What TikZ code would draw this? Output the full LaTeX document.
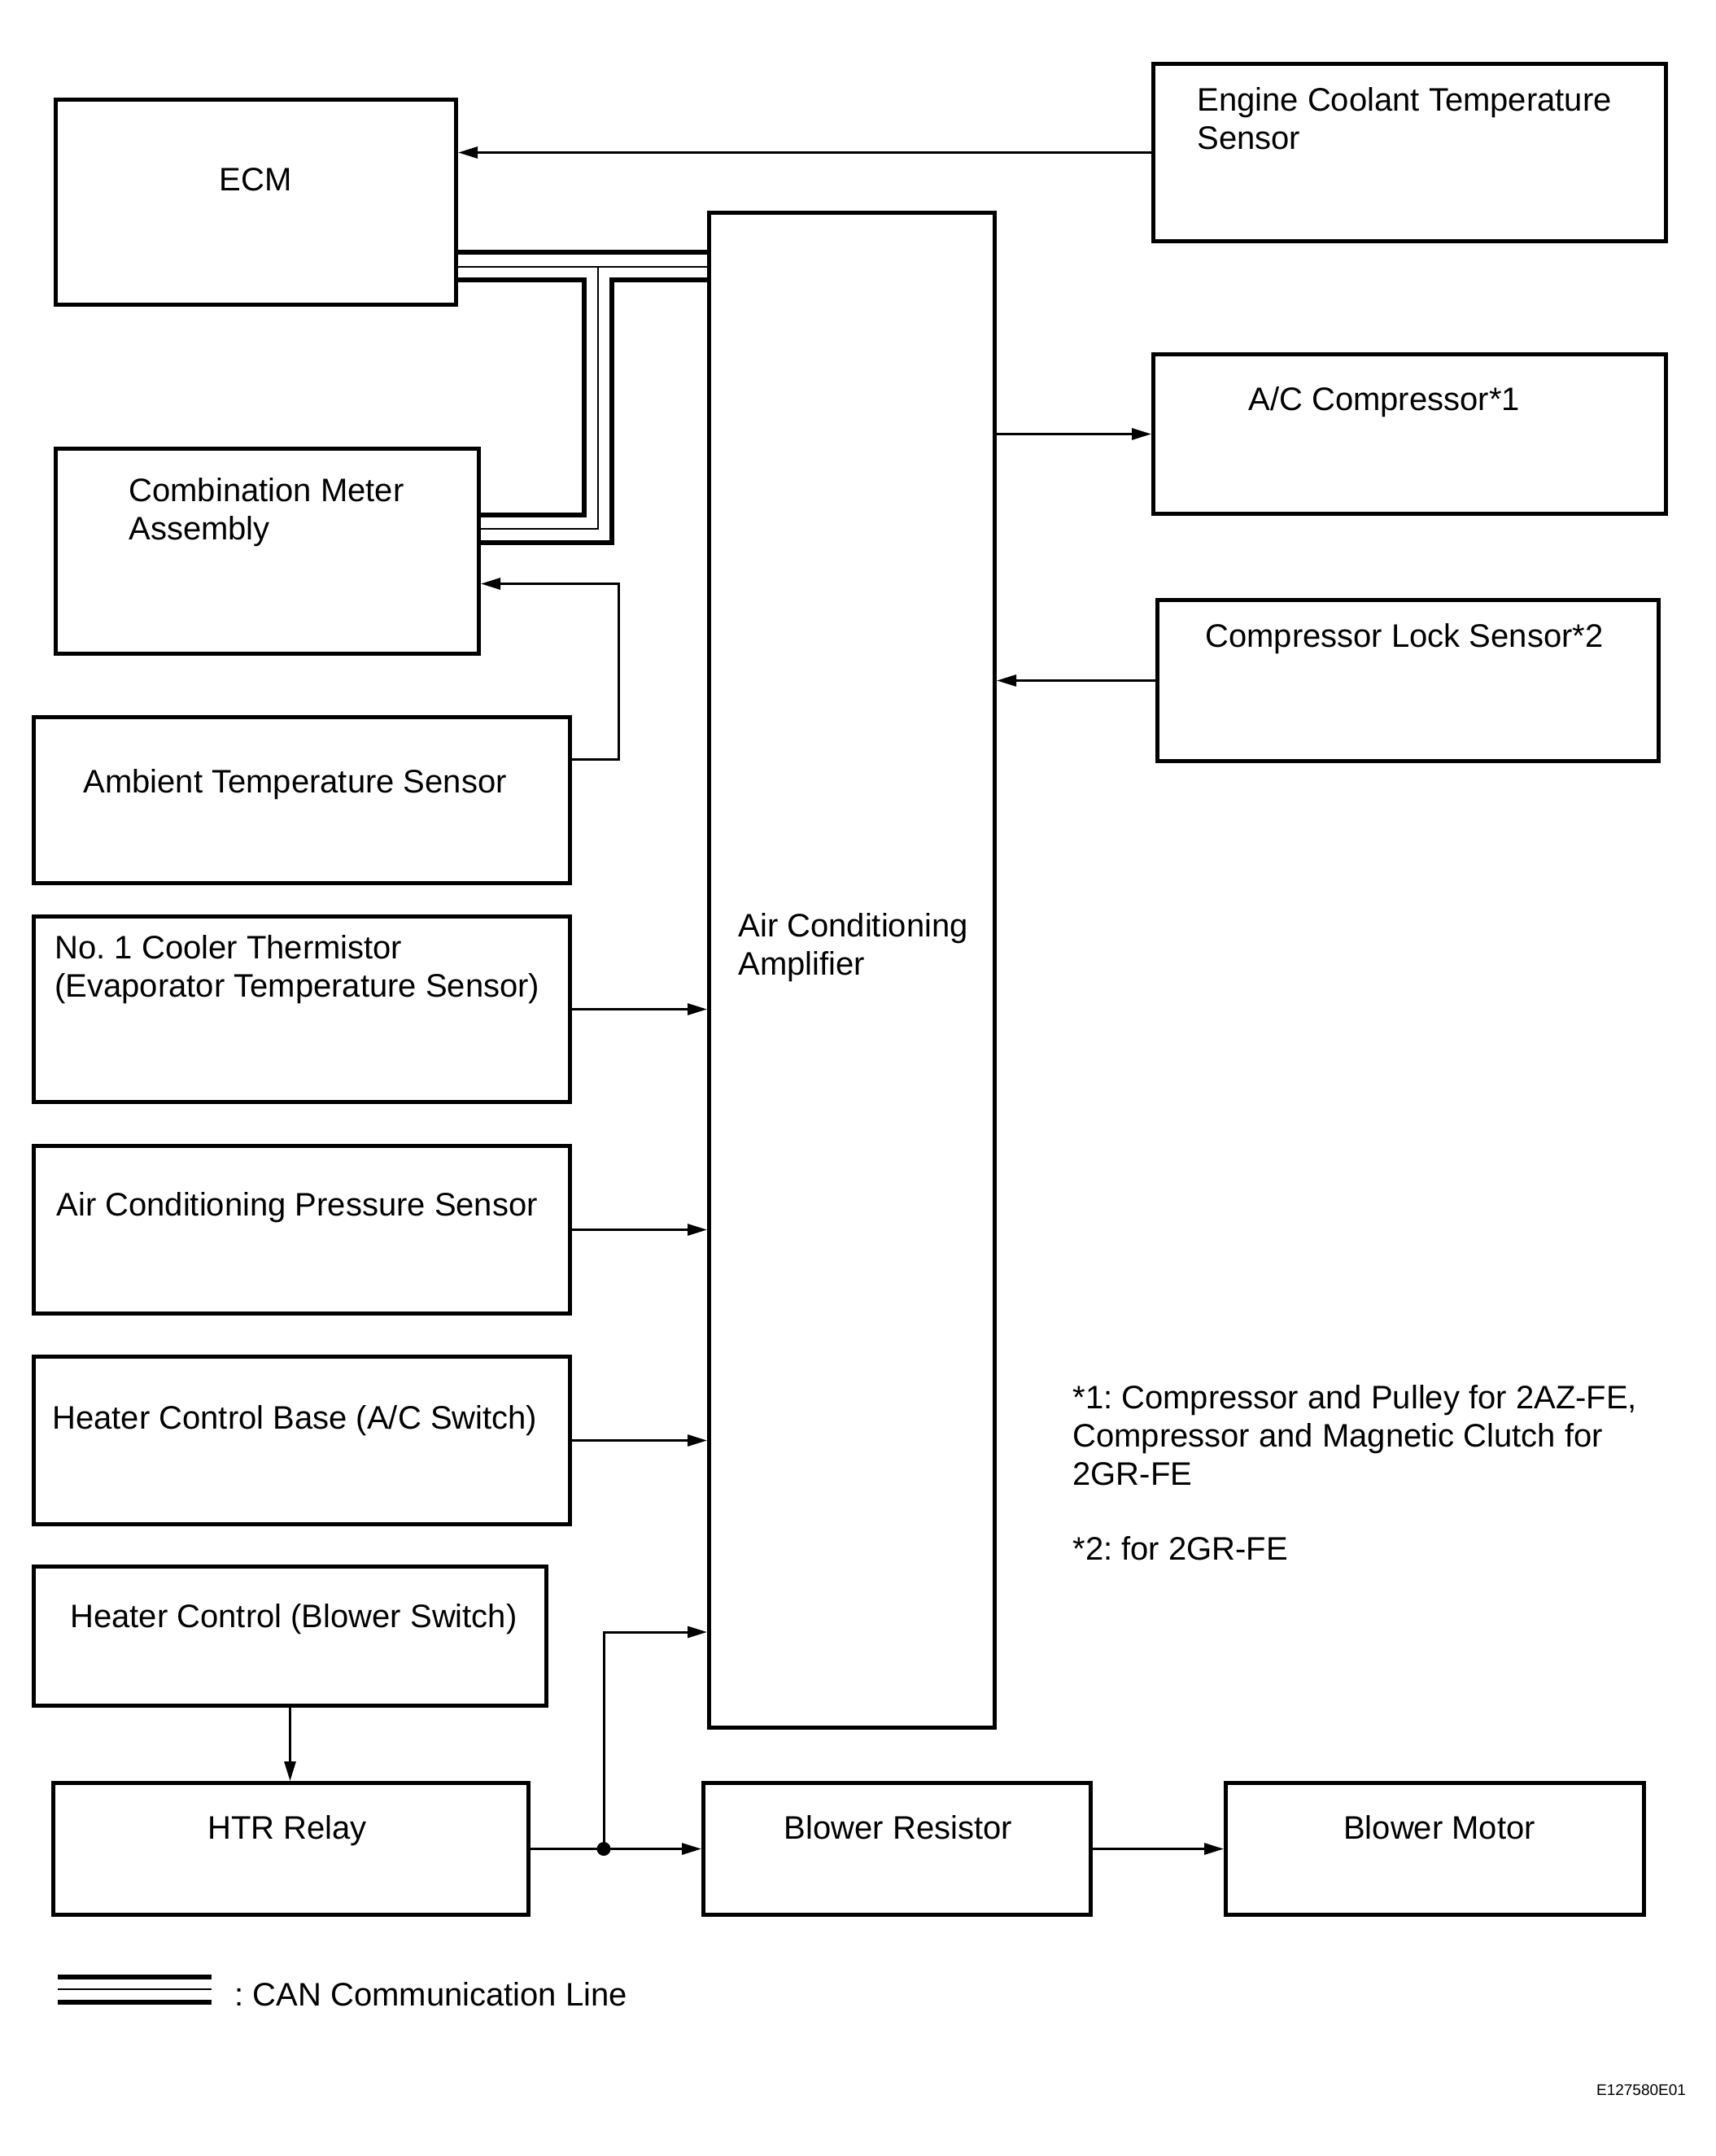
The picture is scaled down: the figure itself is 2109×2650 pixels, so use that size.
\documentclass[tikz,border=0pt]{standalone}
\usepackage{fontspec}
\setmainfont{Liberation Sans}
\usetikzlibrary{arrows.meta}
\frenchspacing

\begin{document}
\begin{tikzpicture} [x = 1pt, y = -1pt, > = {Triangle[length = 24pt, width = 14pt]}, line width = 3pt,
        font = \fontsize{40}{47}\selectfont,
        block/.style = {draw, line width = 5pt, anchor = north west, inner sep = 0pt},
        txt/.style = {anchor = base west, inner sep = 0pt, align = left},
        canouter/.style = {line width = 6pt},
        caninner/.style = {line width = 2.7pt}]
        \useasboundingbox (0,0) rectangle (2109,2650);

        % boxes
        \node [block, minimum width = 492, minimum height = 252] (ecm) at (66,120) {};
        \node [block, minimum width = 630, minimum height = 218] (ect) at (1415,76) {};
        \node [block, minimum width = 351, minimum height = 1862] (amp) at (869,259) {};
        \node [block, minimum width = 520, minimum height = 252] (meter) at (66,549) {};
        \node [block, minimum width = 630, minimum height = 196] (comp) at (1415,433) {};
        \node [block, minimum width = 616, minimum height = 198] (lock) at (1420,735) {};
        \node [block, minimum width = 659, minimum height = 204] (amb) at (39,879) {};
        \node [block, minimum width = 659, minimum height = 228] (therm) at (39,1124) {};
        \node [block, minimum width = 659, minimum height = 206] (press) at (39,1406) {};
        \node [block, minimum width = 659, minimum height = 206] (acsw) at (39,1665) {};
        \node [block, minimum width = 630, minimum height = 171] (blsw) at (39,1923) {};
        \node [block, minimum width = 584, minimum height = 162] (htr) at (63,2189) {};
        \node [block, minimum width = 476, minimum height = 162] (res) at (862,2189) {};
        \node [block, minimum width = 514, minimum height = 162] (motor) at (1504,2189) {};

        % texts (base = last line)
        \node [txt, anchor = base] (ecm text) at (314,234) {ECM};
        \node [txt] (ect text) at (1470,183) {Engine Coolant Temperature\\Sensor};
        \node [txt] (amp text) at (906,1198) {Air Conditioning\\Amplifier};
        \node [txt] (meter text) at (157,663) {Combination Meter\\Assembly};
        \node [txt] (comp text) at (1533,504) {A/C Compressor*1};
        \node [txt] (lock text) at (1480,795) {Compressor Lock Sensor*2};
        \node [txt] (amb text) at (101,974) {Ambient Temperature Sensor};
        \node [txt] (therm text) at (66,1225) {No. 1 Cooler Thermistor\\(Evaporator Temperature Sensor)};
        \node [txt] (press text) at (68,1494) {Air Conditioning Pressure Sensor};
        \node [txt] (acsw text) at (63,1756) {Heater Control Base (A/C Switch)};
        \node [txt] (blsw text) at (85,2000) {Heater Control (Blower Switch)};
        \node [txt, anchor = base] (htr text) at (353,2260) {HTR Relay};
        \node [txt, anchor = base] (res text) at (1104,2260) {Blower Resistor};
        \node [txt, anchor = base] (motor text) at (1769,2260) {Blower Motor};
        \node [txt] (note1) at (1317,1825) {*1: Compressor and Pulley for 2AZ-FE,\\Compressor and Magnetic Clutch for\\2GR-FE};
        \node [txt] (note2) at (1317,1917) {*2: for 2GR-FE};
        \node [txt] (can text) at (287,2465) {: CAN Communication Line};
        \node [txt, anchor = base, font = \fontsize{19}{22}\selectfont] (code) at (2017,2575) {E127580E01};

        % CAN lines
        \draw [canouter] (ecm.east |- 0,310) -- (amp.west |- 0,310);
        \draw [caninner] (ecm.east |- 0,328) -- (amp.west |- 0,328);
        \draw [caninner] (735,328) -- (735,650) -- (meter.east |- 0,650);
        \draw [canouter] (ecm.east |- 0,344) -| (718,633) -- (meter.east |- 0,633);
        \draw [canouter] (amp.west |- 0,344) -| (752,667) -- (meter.east |- 0,667);

        % signal lines
        \draw [->] (ect.west) -- (ect.west -| ecm.east);
        \draw [->] (comp.west -| amp.east) -- (comp.west);
        \draw [->] (lock.west) -- (lock.west -| amp.east);
        \draw [->] ([yshift = -54]amb.north east) -- ++(57,0) |- ([yshift = -40]meter.east);
        \draw [->] (therm.east) -- (therm.east -| amp.west);
        \draw [->] (press.east) -- (press.east -| amp.west);
        \draw [->] (acsw.east) -- (acsw.east -| amp.west);
        \draw [->] (blsw.south) -- (blsw.south |- htr.north);
        \draw [->] (htr.east) -- (res.west);
        \draw [->] (res.east) -- (motor.west);
        \coordinate (split) at (htr.east -| 742,0);
        \fill (split) circle (8.5);
        \draw [->] (split) |- (amp.west |- 0,2006);

        % legend
        \draw [canouter] (71,2430) -- (260,2430);
        \draw [caninner] (71,2445) -- (260,2445);
        \draw [canouter] (71,2461) -- (260,2461);
\end{tikzpicture}
\end{document}
